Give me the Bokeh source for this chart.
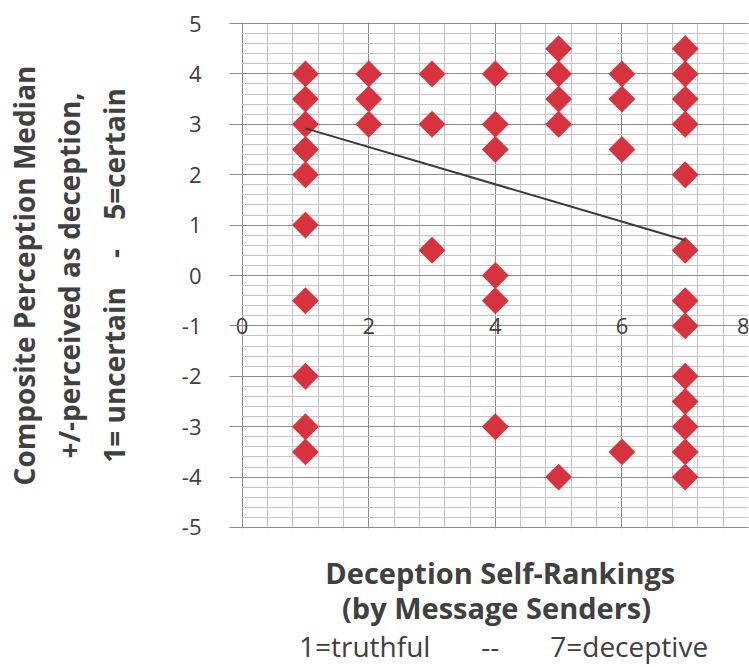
from bokeh.plotting import figure
from bokeh.models import (Range1d, SingleIntervalTicker, FixedTicker, LinearAxis,
                          BoxAnnotation)
from bokeh.embed import file_html
from bokeh.resources import INLINE
import numpy as np

# ---- data ----
self_rank = [1, 1, 1, 1, 1, 1, 1, 1, 1, 1,
             2, 2, 2,
             3, 3, 3,
             4, 4, 4, 4, 4, 4,
             5, 5, 5, 5, 5,
             6, 6, 6, 6,
             7, 7, 7, 7, 7, 7, 7, 7, 7, 7, 7, 7, 7]
perception = [4, 3.5, 3, 2.5, 2, 1, -0.5, -2, -3, -3.5,
              4, 3.5, 3,
              4, 3, 0.5,
              4, 3, 2.5, 0, -0.5, -3,
              4.5, 4, 3.5, 3, -4,
              4, 3.5, 2.5, -3.5,
              4.5, 4, 3.5, 3, 2, 0.5, -0.5, -1, -2, -2.5, -3, -3.5, -4]
trend_x = [1, 7]
trend_y = [2.92, 0.70]
x_tick_values = [0, 2, 4, 6, 8]
x_tick_labels = ["0", "2", "4", "6", "8"]
y_tick_values = [5, 4, 3, 2, 1, 0, -1, -2, -3, -4, -5]
y_tick_labels = ["5", "4", "3", "2", "1", "0", "-1", "-2", "-3", "-4", "-5"]
x_min, x_max = 0, 8
y_min, y_max = -5, 5

NB = "\u00a0"
y_title = ("Composite Perception Median\n+/-perceived as deception,\n"
           "1= uncertain" + NB * 4 + "-" + NB * 4 + "5=certain")
x_title = NB * 3 + "Deception Self-Rankings\n" + NB * 2 + "(by Message Senders)"
x_subtitle = NB * 4 + "1=truthful" + NB * 7 + "--" + NB * 7 + "7=deceptive"

TXT = "#404040"
MAJ = "#8c8c8c"
MIN = "#c4c4c4"
FONT = "Open Sans"

# a little room left of x = 0 so the "0" tick label is not clipped
p = figure(width=749, height=667, output_backend="svg", toolbar_location=None,
           x_range=Range1d(x_min - 0.2, x_max),
           y_range=Range1d(y_min - 0.02, y_max + 0.02),
           min_border_left=229, min_border_right=1, min_border_top=22,
           min_border_bottom=139)
p.background_fill_color = "white"
p.border_fill_color = "white"
p.outline_line_color = None

# grids
p.xgrid.ticker = SingleIntervalTicker(interval=2, num_minor_ticks=5)
p.xgrid.grid_line_color = MAJ
p.xgrid.minor_grid_line_color = MIN
p.ygrid.grid_line_color = MAJ
p.ygrid.minor_grid_line_color = MIN

# white strip hiding the grid left of x = 0
p.add_layout(BoxAnnotation(right=x_min - 0.012, fill_color="white", fill_alpha=1,
                           line_color=None, level="underlay"))

# y axis (ticks reach inward to the x = 0 line)
p.yaxis.ticker = SingleIntervalTicker(interval=1, num_minor_ticks=5)
p.yaxis.major_label_overrides = dict(zip(y_tick_values, y_tick_labels))
p.yaxis.minor_tick_line_color = None
p.yaxis.major_tick_out = 0
p.yaxis.major_tick_in = 13
p.yaxis.major_tick_line_color = MAJ
p.yaxis.axis_line_color = None
p.yaxis.major_label_standoff = 24
p.yaxis.major_label_text_font = FONT
p.yaxis.major_label_text_font_size = "22px"
p.yaxis.major_label_text_color = TXT
p.yaxis.axis_label = y_title
p.yaxis.axis_label_text_font = FONT
p.yaxis.axis_label_text_font_style = "bold"
p.yaxis.axis_label_text_font_size = "28px"
p.yaxis.axis_label_text_color = TXT
p.yaxis.axis_label_text_line_height = 1.18
p.yaxis.axis_label_standoff = 46

# x axis: tick labels drawn on the y = -1 line, as in the reference
p.xaxis.ticker = FixedTicker(ticks=x_tick_values)
p.xaxis.major_label_overrides = dict(zip(x_tick_values, x_tick_labels))
p.xaxis.fixed_location = -0.84
p.xaxis.major_tick_out = 0
p.xaxis.major_tick_in = 0
p.xaxis.minor_tick_line_color = None
p.xaxis.axis_line_color = None
p.xaxis.major_label_standoff = 0
p.xaxis.major_label_text_font = FONT
p.xaxis.major_label_text_font_size = "22px"
p.xaxis.major_label_text_color = TXT

ax_title = LinearAxis(ticker=FixedTicker(ticks=[]), axis_label=x_title)
ax_title.major_tick_out = 0
ax_title.major_tick_in = 0
ax_title.minor_tick_line_color = None
ax_title.axis_line_color = None
ax_title.axis_label_text_font = FONT
ax_title.axis_label_text_font_style = "bold"
ax_title.axis_label_text_font_size = "29px"
ax_title.axis_label_text_color = TXT
ax_title.axis_label_text_line_height = 0.92
ax_title.axis_label_standoff = 24
p.add_layout(ax_title, "below")

ax_sub = LinearAxis(ticker=FixedTicker(ticks=[]), axis_label=x_subtitle)
ax_sub.major_tick_out = 0
ax_sub.major_tick_in = 0
ax_sub.minor_tick_line_color = None
ax_sub.axis_line_color = None
ax_sub.axis_label_text_font = FONT
ax_sub.axis_label_text_font_style = "normal"
ax_sub.axis_label_text_font_size = "28px"
ax_sub.axis_label_text_color = TXT
ax_sub.axis_label_standoff = -4
p.add_layout(ax_sub, "below")

# points
p.scatter(self_rank, perception, marker="square", size=19, angle=np.pi / 4,
          fill_color="#D9323F", line_color=None)

# trend line
p.line(trend_x, trend_y, line_color="#3a3a3a", line_width=2)

open("out.html", "w").write(file_html(p, INLINE))
